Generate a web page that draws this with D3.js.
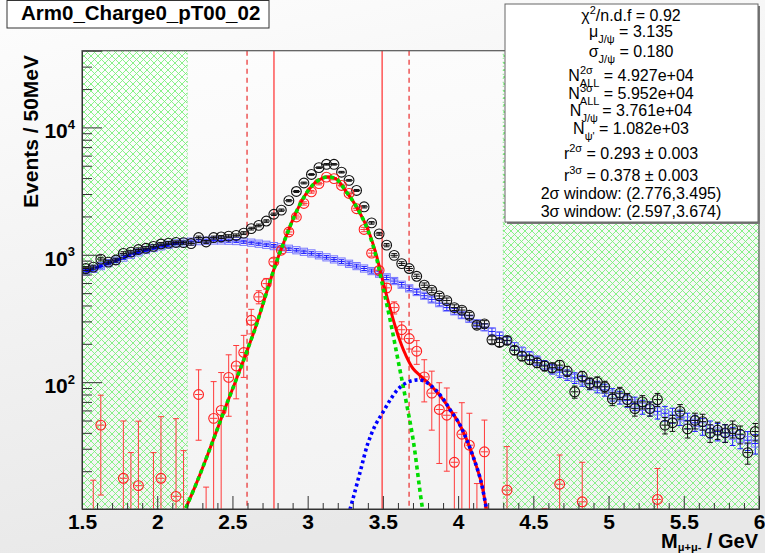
<!DOCTYPE html>
<html>
<head>
<meta charset="utf-8">
<script src="https://cdn.jsdelivr.net/npm/d3@7"></script>
<style>
  body { margin: 0; background: #fff; }
  svg { display: block; font-family: "Liberation Sans", Arial, sans-serif; }
</style>
</head>
<body>
<svg id="c" width="765" height="553"></svg>
<script>
// binning: 50 MeV bins from 1.5 to 6 GeV
const binLo = 1.5, binW = 0.05;

// black: all pairs
const total = [780, 800, 925, 875, 910, 1025, 1050, 1100, 1125, 1165,
  1215, 1235, 1250, 1245, 1225, 1365, 1260, 1365, 1380, 1400,
  1420, 1480, 1605, 1700, 1840, 2080, 2240, 2660, 3140, 3660,
  4270, 4830, 5130, 5130, 4450, 3840, 3200, 2380, 1780, 1460,
  1190, 990, 853, 780, 678, 577, 527, 475, 437, 385,
  368, 335, 280, 287, 215, 205, 213, 178, 160, 150,
  142, 134, 130, 136, 122, 84, 111, 98, 100, 92,
  74, 82, 73, 62, 70, 62, 73, 46, 48, 59,
  43, 50, 49, 40, 42, 40, 43, 39, 28, 41];

// blue: background
const background = [740, 775, 815, 860, 900, 950, 1000, 1045, 1090, 1130,
  1165, 1200, 1230, 1250, 1268, 1280, 1290, 1295, 1295, 1290,
  1282, 1265, 1245, 1222, 1198, 1170, 1145, 1115, 1085, 1055,
  1025, 990, 955, 920, 885, 850, 815, 780, 745, 710,
  665, 622, 582, 545, 510, 477, 446, 417, 385, 360,
  336, 314, 290, 270, 250, 232, 212, 191, 175, 161,
  148, 136, 127, 120, 114, 108, 103, 97, 92, 87,
  80, 76, 72, 68, 64, 62, 59, 57, 55, 53,
  50, 48, 45, 43, 41, 40, 38, 36, 35, 33];

// red: background subtracted
const signal = [-25, -16, 46, -30, -35, 17.6, -5, 15.4, -30, -6,
  17.6, -30, 12.7, -7, -40, 80, -30, 52, 60, 109,
  134, 171, 306, 467, 594, 880, 1085, 1510, 1980, 2530,
  3120, 3620, 4070, 3960, 3500, 3030, 2300, 1580, 1030, 755,
  550, 385, 258, 220, 175, 110, 82, 61, 55, 23.5,
  39, 32, -6, 28.4, -20, -15, 14.2, -20, -15, -15,
  -12, -4.8, -10, 15.8, -10, -25, 11.5, -10, -10, -10,
  -10, -10, -10, -10, -10, -10, 12, -10, -10, -10,
  -10, -10, -10, -10, -10, -10, -10, -10, -10, -10];
const signalErr = [32, 33, 33, 33, 33, 32, 33, 34, 34, 34,
  36, 35, 39, 36, 36, 45, 45, 49, 59, 55,
  60, 62, 67, 55, 58, 60, 62, 66, 70, 74,
  78, 82, 84, 84, 80, 76, 70, 62, 55, 50,
  46, 42, 40, 38, 37, 40, 40, 38, 35, 34,
  30, 25, 22, 22, 22, 20, 17, 19, 18, 17,
  17, 15, 16, 11, 15, 14, 12, 14, 14, 13,
  13, 13, 12, 12, 12, 12, 9, 12, 12, 12,
  12, 12, 12, 12, 12, 12, 12, 12, 12, 12];

// fit curves [mass, counts]
const jpsiCurve = [[2.19, 10.3], [2.25, 15], [2.30, 21], [2.35, 30], [2.40, 43], [2.45, 62],
  [2.50, 88], [2.55, 125], [2.60, 180], [2.65, 262], [2.70, 400], [2.75, 620], [2.80, 930],
  [2.85, 1330], [2.90, 1870], [2.95, 2500], [3.00, 3150], [3.05, 3680], [3.10, 4000],
  [3.135, 4080], [3.17, 4030], [3.20, 3860], [3.25, 3200], [3.30, 2650], [3.35, 2100],
  [3.40, 1560], [3.45, 1020], [3.50, 560], [3.55, 300], [3.60, 150], [3.65, 75],
  [3.70, 36], [3.75, 13], [3.77, 9]];
const signalCurve = [[2.19, 10.3], [2.25, 15], [2.30, 21], [2.35, 30], [2.40, 43], [2.45, 62],
  [2.50, 88], [2.55, 125], [2.60, 180], [2.65, 262], [2.70, 400], [2.75, 620], [2.80, 930],
  [2.85, 1330], [2.90, 1870], [2.95, 2500], [3.00, 3150], [3.05, 3680], [3.10, 4000],
  [3.135, 4080], [3.17, 4030], [3.20, 3860], [3.25, 3200], [3.30, 2650], [3.35, 2100],
  [3.40, 1580], [3.45, 1060], [3.50, 620], [3.55, 370], [3.60, 235], [3.65, 165],
  [3.70, 128], [3.75, 112], [3.80, 99], [3.85, 86], [3.90, 73], [3.95, 60], [4.00, 49],
  [4.05, 37], [4.10, 26], [4.15, 17], [4.19, 10], [4.21, 8]];
const psi2Curve = [[3.27, 9], [3.30, 12], [3.35, 20], [3.40, 33], [3.45, 46], [3.50, 58],
  [3.55, 73], [3.60, 88], [3.65, 98], [3.70, 103], [3.75, 104], [3.80, 98], [3.85, 87],
  [3.90, 74], [3.95, 60], [4.00, 49], [4.05, 37], [4.10, 26], [4.15, 17], [4.19, 10], [4.21, 8]];

const sidebands = [[1.5, 2.2], [4.3, 6.0]];
const window2s = [2.776, 3.495];
const window3s = [2.597, 3.674];

const xTicks = [1.5, 2, 2.5, 3, 3.5, 4, 4.5, 5, 5.5, 6];
const yDecades = [100, 1000, 10000];

const title = 'Arm0_Charge0_pT00_02';
const statLines = [
  [['χ'], ['2', 'sup'], ['/n.d.f = 0.92']],
  [['μ'], ['J/ψ', 'sub'], [' = 3.135']],
  [['σ'], ['J/ψ', 'sub'], [' = 0.180']],
  [['N'], ['2σ', 'sup'], ['ALL', 'subback'], [' = 4.927e+04']],
  [['N'], ['3σ', 'sup'], ['ALL', 'subback'], [' = 5.952e+04']],
  [['N'], ['J/ψ', 'sub'], [' = 3.761e+04']],
  [['N'], ["ψ'", 'sub'], [' = 1.082e+03']],
  [['r'], ['2σ', 'sup'], [' = 0.293 ± 0.003']],
  [['r'], ['3σ', 'sup'], [' = 0.378 ± 0.003']],
  [['2σ window: (2.776,3.495)']],
  [['3σ window: (2.597,3.674)']]
];

const W = 765, H = 553;
const fl = 82, fr = 759, ft = 50.7, fb = 509;

let svg = d3.select('#c');
let defs = svg.append('defs');

let bg = defs.append('linearGradient').attr('id', 'bg').attr('x1', 0).attr('y1', 0).attr('x2', 0.3).attr('y2', 1);
bg.append('stop').attr('offset', 0).attr('stop-color', '#fdfdfd');
bg.append('stop').attr('offset', 1).attr('stop-color', '#e8e8e8');
let fg = defs.append('linearGradient').attr('id', 'fg').attr('x1', 0).attr('y1', 0).attr('x2', 0.2).attr('y2', 1);
fg.append('stop').attr('offset', 0).attr('stop-color', '#fdfdfd');
fg.append('stop').attr('offset', 1).attr('stop-color', '#f3f3f3');

let pat = defs.append('pattern').attr('id', 'hatch')
  .attr('width', 7).attr('height', 7).attr('patternUnits', 'userSpaceOnUse');
pat.append('path').attr('d', 'M0,0L7,7M7,0L0,7M-1,6L1,8M6,-1L8,1')
  .attr('stroke', '#7cf07c').attr('stroke-width', 0.9).attr('fill', 'none');

defs.append('clipPath').attr('id', 'frameclip')
  .append('rect').attr('x', fl).attr('y', ft).attr('width', fr - fl).attr('height', fb - ft);

svg.append('rect').attr('width', W).attr('height', H).attr('fill', 'url(#bg)');
svg.append('rect').attr('x', fl).attr('y', ft).attr('width', fr - fl).attr('height', fb - ft)
  .attr('fill', 'url(#fg)');

let x = d3.scaleLinear().domain([1.5, 6]).range([fl, fr]);
let y = d3.scaleLog().domain([10.1, 40000]).range([fb, ft]);
const yMin = 10.1;

let plot = svg.append('g').attr('clip-path', 'url(#frameclip)');

// sideband hatch
sidebands.forEach(sb => {
  plot.append('rect')
    .attr('x', x(sb[0])).attr('y', ft)
    .attr('width', x(sb[1]) - x(sb[0])).attr('height', fb - ft)
    .attr('fill', 'url(#hatch)')
    .attr('stroke', '#66e066').attr('stroke-width', 1).attr('stroke-dasharray', '1,3');
});

// window lines
window3s.forEach(m => {
  plot.append('line').attr('x1', x(m)).attr('x2', x(m)).attr('y1', ft).attr('y2', fb)
    .attr('stroke', '#e81818').attr('stroke-width', 1.1).attr('stroke-dasharray', '5,4');
});
window2s.forEach(m => {
  plot.append('line').attr('x1', x(m)).attr('x2', x(m)).attr('y1', ft).attr('y2', fb)
    .attr('stroke', '#ff4a4a').attr('stroke-width', 1.4);
});

const centers = total.map((d, i) => binLo + binW * (i + 0.5));

function drawPoints(vals, errs, o) {
  let g = plot.append('g');
  vals.forEach((v, i) => {
    let c = centers[i];
    let px = x(c);
    let e = errs[i];
    let top = v + e, bot = v - e;
    if (top > yMin) {
      let y1 = y(top);
      let y2 = bot > yMin ? y(bot) : fb + 2;
      g.append('line').attr('x1', px).attr('x2', px).attr('y1', y1).attr('y2', y2)
        .attr('stroke', o.bar).attr('stroke-width', 1);
      g.append('line').attr('x1', px - o.cap).attr('x2', px + o.cap).attr('y1', y1).attr('y2', y1)
        .attr('stroke', o.bar).attr('stroke-width', 1);
      if (bot > yMin) {
        g.append('line').attr('x1', px - o.cap).attr('x2', px + o.cap).attr('y1', y2).attr('y2', y2)
          .attr('stroke', o.bar).attr('stroke-width', 1);
      }
    }
    if (v > yMin * 0.8) {
      let py = y(v);
      g.append('line').attr('x1', x(c - binW / 2)).attr('x2', x(c + binW / 2)).attr('y1', py).attr('y2', py)
        .attr('stroke', o.bar).attr('stroke-width', 1);
      if (o.shape === 'circle') {
        g.append('circle').attr('cx', px).attr('cy', py).attr('r', 4.9)
          .attr('fill', 'none').attr('stroke', o.mark).attr('stroke-width', 1.1);
      } else {
        g.append('rect').attr('x', px - 3.6).attr('y', py - 3.6).attr('width', 7.2).attr('height', 7.2)
          .attr('fill', 'none').attr('stroke', o.mark).attr('stroke-width', 1);
      }
    }
  });
}

// background points and left sideband fit line
drawPoints(background, background.map(v => Math.sqrt(v)), { shape: 'square', mark: '#7777ff', bar: '#1f1fff', cap: 2.8 });

let lineXY = d3.line().x(d => x(d[0])).y(d => y(d[1]));
let sbLeft = sidebands[0];
let sbPts = centers.map((c, i) => [c, background[i]]).filter(d => d[0] > sbLeft[0] && d[0] < sbLeft[1]);
plot.append('path').datum(sbPts).attr('d', lineXY)
  .attr('fill', 'none').attr('stroke', '#0000ff').attr('stroke-width', 3)
  .attr('stroke-dasharray', '8,2');

drawPoints(total, total.map(v => Math.sqrt(v)), { shape: 'circle', mark: '#111', bar: '#111', cap: 2.8 });
drawPoints(signal, signalErr, { shape: 'circle', mark: '#ff2020', bar: '#ff3a3a', cap: 3 });

// fit curves
let curveLine = d3.line().x(d => x(d[0])).y(d => y(d[1])).curve(d3.curveCatmullRom.alpha(0.5));
plot.append('path').datum(signalCurve).attr('d', curveLine)
  .attr('fill', 'none').attr('stroke', '#ff0000').attr('stroke-width', 3);
plot.append('path').datum(jpsiCurve).attr('d', curveLine)
  .attr('fill', 'none').attr('stroke', '#00dd00').attr('stroke-width', 3.6)
  .attr('stroke-dasharray', '4,3.5');
plot.append('path').datum(psi2Curve).attr('d', curveLine)
  .attr('fill', 'none').attr('stroke', '#0000ff').attr('stroke-width', 3.6)
  .attr('stroke-dasharray', '3,3');

// frame
svg.append('rect').attr('x', fl).attr('y', ft).attr('width', fr - fl).attr('height', fb - ft)
  .attr('fill', 'none').attr('stroke', '#555').attr('stroke-width', 1.2);

// x axis
let xMinor = d3.range(15, 61).map(d => d / 10).filter(d => xTicks.indexOf(d) < 0);
let xAx = svg.append('g').attr('transform', `translate(0,${fb})`)
  .call(d3.axisBottom(x).tickValues(xTicks).tickSize(-13).tickPadding(5).tickFormat(d3.format('~g')));
svg.append('g').attr('transform', `translate(0,${fb})`)
  .call(d3.axisBottom(x).tickValues(xMinor).tickSize(-6).tickFormat(''))
  .call(g => g.select('.domain').remove());
xAx.select('.domain').attr('stroke', '#333');
xAx.selectAll('text').attr('font-size', 21).attr('font-weight', 'bold')
  .attr('font-family', '"Liberation Sans", Arial, sans-serif').attr('fill', '#000');
svg.selectAll('.tick line').attr('stroke', '#333');

// y axis
let yMinor = [];
[10, 100, 1000, 10000].forEach(dec => {
  for (let k = 2; k <= 9; k++) {
    if (dec * k < 40000 && dec * k > yMin) yMinor.push(dec * k);
  }
});
let yAx = svg.append('g').attr('transform', `translate(${fl},0)`)
  .call(d3.axisLeft(y).tickValues(yDecades).tickSize(-20).tickPadding(7).tickFormat(''));
svg.append('g').attr('transform', `translate(${fl},0)`)
  .call(d3.axisLeft(y).tickValues(yMinor).tickSize(-10).tickFormat(''))
  .call(g => g.select('.domain').remove())
  .selectAll('line').attr('stroke', '#333');
yAx.select('.domain').attr('stroke', '#333');
yAx.selectAll('line').attr('stroke', '#333');
yAx.selectAll('.tick').each(function (d) {
  let t = d3.select(this).select('text').attr('dy', null).attr('y', 10.5).attr('x', -7)
    .attr('font-size', 21).attr('font-weight', 'bold').attr('fill', '#000')
    .attr('font-family', '"Liberation Sans", Arial, sans-serif');
  t.append('tspan').text('10');
  t.append('tspan').attr('font-size', 13).attr('dy', -9.5).text(Math.round(Math.log10(d)));
});

// axis titles
svg.append('text').attr('transform', 'translate(38,55) rotate(-90)')
  .attr('text-anchor', 'end').attr('font-size', 21).attr('font-weight', 'bold')
  .text('Events / 50MeV');
let xt = svg.append('text').attr('x', 758).attr('y', 548).attr('text-anchor', 'end')
  .attr('font-size', 20).attr('font-weight', 'bold');
xt.append('tspan').text('M');
xt.append('tspan').attr('font-size', 11).attr('dy', 3).text('μ+μ-');
xt.append('tspan').attr('dy', -3).text(' / GeV');

// stats box
svg.append('rect').attr('x', 507).attr('y', 6).attr('width', 253).attr('height', 218).attr('fill', '#777');
svg.append('rect').attr('x', 505).attr('y', 4).attr('width', 253).attr('height', 218)
  .attr('fill', '#ffffff').attr('stroke', '#666').attr('stroke-width', 1);
const statBase = [21, 37, 57, 81, 99, 116, 134, 159, 181, 199, 217];
statLines.forEach((parts, li) => {
  let t = svg.append('text').attr('x', 631).attr('y', statBase[li])
    .attr('text-anchor', 'middle').attr('font-size', 16).attr('fill', '#000');
  let shift = 0;
  parts.forEach(p => {
    let ts = t.append('tspan').text(p[0]);
    let want = 0, dx = null;
    if (p[1] === 'sup') { want = -7; ts.attr('font-size', 11); }
    else if (p[1] === 'sub') { want = 6; ts.attr('font-size', 11); }
    else if (p[1] === 'subback') { want = 6; ts.attr('font-size', 11); dx = -13; }
    if (want - shift !== 0) ts.attr('dy', want - shift);
    if (dx !== null) ts.attr('dx', dx);
    shift = want;
  });
});

// title box
svg.append('rect').attr('x', 7).attr('y', 0.5).attr('width', 262).attr('height', 27.5)
  .attr('fill', '#fff').attr('stroke', '#333').attr('stroke-width', 1);
svg.append('text').attr('x', 21).attr('y', 20).attr('font-size', 20.5).attr('font-weight', 'bold')
  .text(title);
</script>
</body>
</html>
